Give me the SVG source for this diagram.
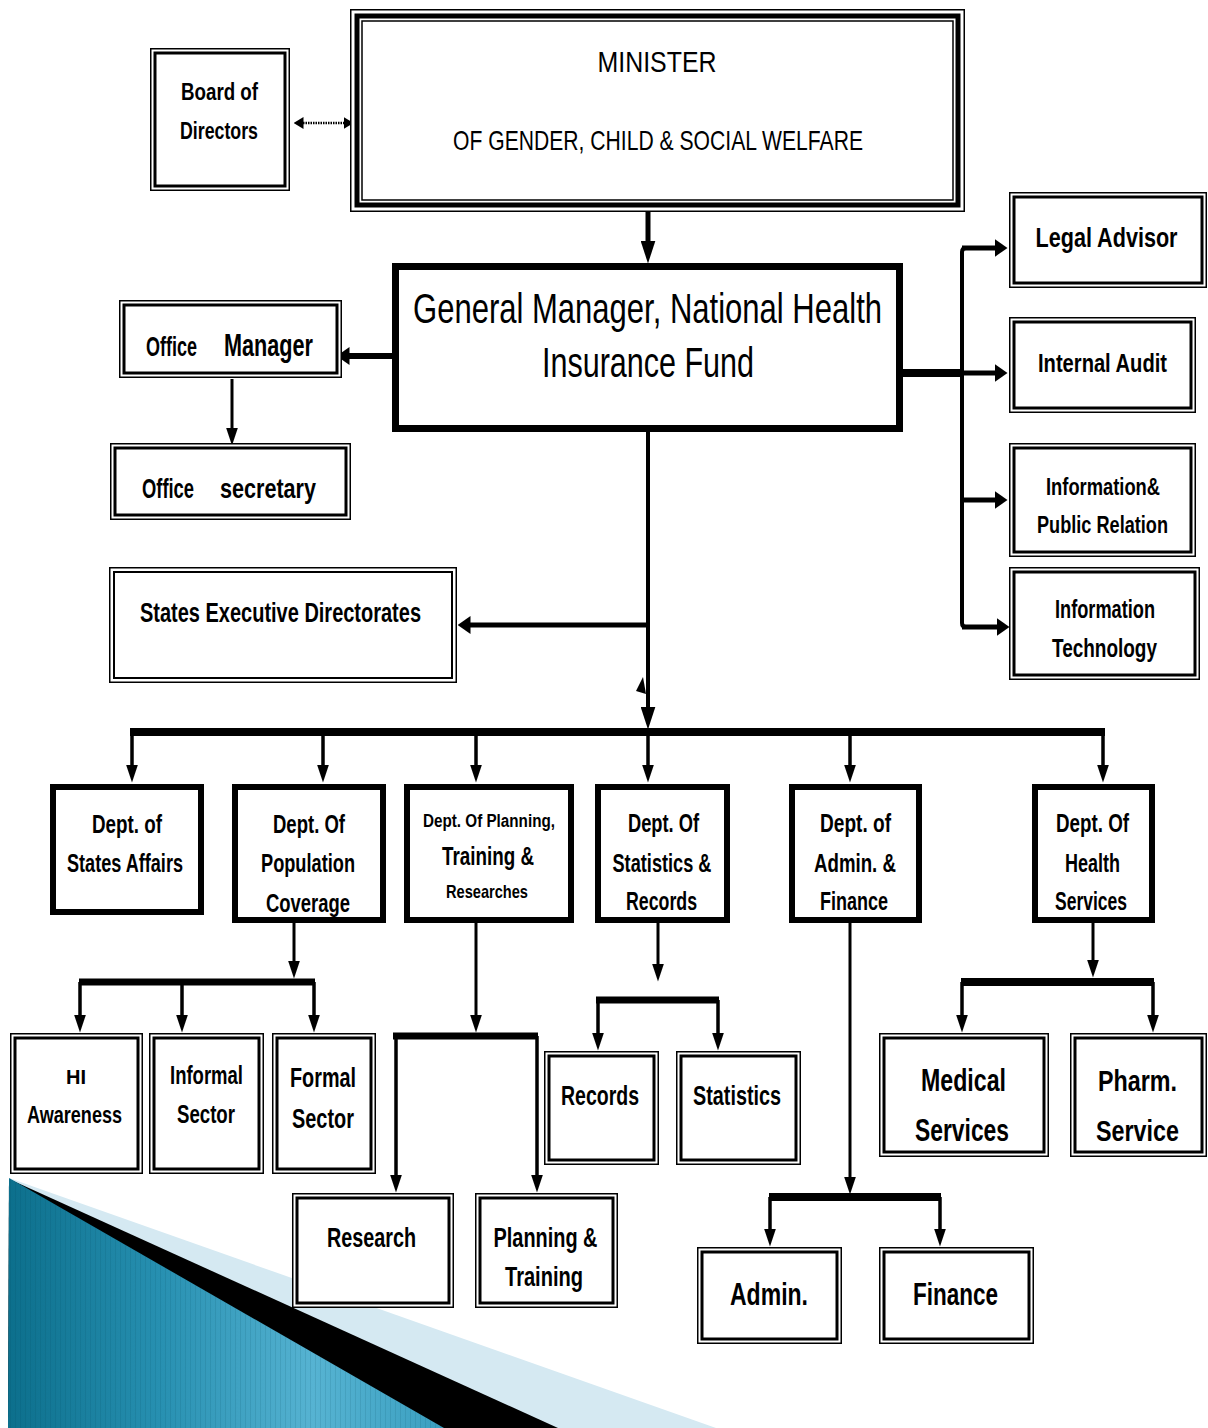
<svg xmlns="http://www.w3.org/2000/svg" width="1208" height="1428" viewBox="0 0 1208 1428">
<style>
.b{font-family:"Liberation Sans Narrow","Liberation Sans",Arial,sans-serif;font-weight:bold;text-anchor:middle;fill:#000}
.l{font-family:"Liberation Sans Narrow","Liberation Sans",Arial,sans-serif;font-weight:normal;text-anchor:middle;fill:#000}
.o{fill:#fff;stroke:#000;stroke-width:1.5}
.i{fill:none;stroke:#000;stroke-width:3}
.k{fill:#fff;stroke:#000;stroke-width:6}
.c{fill:none;stroke:#000}
</style>
<defs>
<linearGradient id="blue" x1="0" y1="0" x2="1" y2="0">
<stop offset="0" stop-color="#0c6f8c"/>
<stop offset="0.35" stop-color="#2790b1"/>
<stop offset="0.7" stop-color="#56b3d2"/>
<stop offset="1" stop-color="#3a9fc0"/>
</linearGradient>
<pattern id="stripes" width="5" height="10" patternUnits="userSpaceOnUse">
<rect width="5" height="10" fill="none"/>
<line x1="0.5" y1="0" x2="0.5" y2="10" stroke="#003a4c" stroke-width="1" opacity="0.12"/>
</pattern>
<marker id="mL" viewBox="0 0 23 15" refX="0.5" refY="7.5" markerWidth="23" markerHeight="15" orient="auto" markerUnits="userSpaceOnUse"><path d="M0,0 L23,7.5 L0,15 z"/></marker>
<marker id="mM" viewBox="0 0 18 12" refX="0.5" refY="6" markerWidth="18" markerHeight="12" orient="auto" markerUnits="userSpaceOnUse"><path d="M0,0 L18,6 L0,12 z"/></marker>
<marker id="mR" viewBox="0 0 13 18" refX="0.5" refY="9" markerWidth="13" markerHeight="18" orient="auto" markerUnits="userSpaceOnUse"><path d="M0,0 L13,9 L0,18 z"/></marker>
<marker id="mD" viewBox="0 0 10 12" refX="0.5" refY="6" markerWidth="10" markerHeight="12" orient="auto-start-reverse" markerUnits="userSpaceOnUse"><path d="M0,0 L10,6 L0,12 z"/></marker>
</defs>
<rect width="1208" height="1428" fill="#fff"/>
<g id="corner">
<polygon points="9,1178 716,1428 8,1428" fill="#d5e9f2"/>
<polygon points="9,1179 558,1428 8,1428" fill="#000"/>
<polygon points="9,1178 444,1428 8,1428" fill="url(#blue)"/>
<polygon points="9,1178 444,1428 8,1428" fill="url(#stripes)"/>
</g>
<g id="connectors">
<path class="c" d="M648,212 V241" stroke-width="5" marker-end="url(#mL)"/>
<path class="c" d="M303,123 H344" stroke-width="2.5" stroke-dasharray="1.5 1" marker-start="url(#mD)" marker-end="url(#mD)"/>
<path class="c" d="M393,356 H349" stroke-width="6" marker-end="url(#mR)"/>
<path class="c" d="M232,379 V428" stroke-width="3" marker-end="url(#mM)"/>
<path class="c" d="M903,373 H962" stroke-width="8"/>
<path class="c" d="M975,248 H966 Q962,248 962,252 V623 Q962,627 966,627 H975" stroke-width="4"/>
<path class="c" d="M962,248 H995" stroke-width="5" marker-end="url(#mR)"/>
<path class="c" d="M962,373 H995" stroke-width="5" marker-end="url(#mR)"/>
<path class="c" d="M962,500 H995" stroke-width="5" marker-end="url(#mR)"/>
<path class="c" d="M962,627 H997" stroke-width="5" marker-end="url(#mR)"/>
<path class="c" d="M648,432 V707" stroke-width="4" marker-end="url(#mL)"/>
<path class="c" d="M648,625 H470" stroke-width="5" marker-end="url(#mR)"/>
<polygon points="643,677 636,691 646,694" fill="#000"/>
<path class="c" d="M130,732 H1105" stroke-width="8"/>
<path class="c" d="M132,732 V765" stroke-width="3.5" marker-end="url(#mM)"/>
<path class="c" d="M323,732 V765" stroke-width="3.5" marker-end="url(#mM)"/>
<path class="c" d="M476,732 V765" stroke-width="3.5" marker-end="url(#mM)"/>
<path class="c" d="M648,732 V765" stroke-width="3.5" marker-end="url(#mM)"/>
<path class="c" d="M850,732 V765" stroke-width="3.5" marker-end="url(#mM)"/>
<path class="c" d="M1103,732 V765" stroke-width="3.5" marker-end="url(#mM)"/>
<path class="c" d="M294,923 V961" stroke-width="3" marker-end="url(#mM)"/>
<path class="c" d="M79,982 H315" stroke-width="7"/>
<path class="c" d="M80,982 V1015" stroke-width="3.5" marker-end="url(#mM)"/>
<path class="c" d="M182,982 V1015" stroke-width="3.5" marker-end="url(#mM)"/>
<path class="c" d="M314,982 V1015" stroke-width="3.5" marker-end="url(#mM)"/>
<path class="c" d="M476,923 V1015" stroke-width="3" marker-end="url(#mM)"/>
<path class="c" d="M393,1036 H538" stroke-width="7"/>
<path class="c" d="M396,1036 V1175" stroke-width="3.5" marker-end="url(#mM)"/>
<path class="c" d="M537,1036 V1175" stroke-width="3.5" marker-end="url(#mM)"/>
<path class="c" d="M658,923 V964" stroke-width="3" marker-end="url(#mM)"/>
<path class="c" d="M596,1000 H719" stroke-width="7"/>
<path class="c" d="M598,1000 V1033" stroke-width="3.5" marker-end="url(#mM)"/>
<path class="c" d="M718,1000 V1033" stroke-width="3.5" marker-end="url(#mM)"/>
<path class="c" d="M850,923 V1177" stroke-width="3" marker-end="url(#mM)"/>
<path class="c" d="M769,1197 H941" stroke-width="8"/>
<path class="c" d="M770,1197 V1229" stroke-width="3.5" marker-end="url(#mM)"/>
<path class="c" d="M940,1197 V1229" stroke-width="3.5" marker-end="url(#mM)"/>
<path class="c" d="M1093,923 V960" stroke-width="3" marker-end="url(#mM)"/>
<path class="c" d="M961,982 H1154" stroke-width="8"/>
<path class="c" d="M962,982 V1015" stroke-width="3.5" marker-end="url(#mM)"/>
<path class="c" d="M1153,982 V1015" stroke-width="3.5" marker-end="url(#mM)"/>
</g>
<g id="minister">
<rect class="o" x="350.75" y="9.75" width="613.5" height="201.5"/>
<rect fill="none" stroke="#000" stroke-width="5" x="357" y="16" width="601" height="189"/>
<rect fill="none" stroke="#000" stroke-width="1.5" x="362" y="21" width="591" height="179"/>
<text class="l" x="657" y="72" font-size="30" textLength="119" lengthAdjust="spacingAndGlyphs">MINISTER</text>
<text class="l" x="658" y="150" font-size="28" textLength="410" lengthAdjust="spacingAndGlyphs">OF GENDER, CHILD &amp; SOCIAL WELFARE</text>
</g>
<g id="board">
<rect class="o" x="150.75" y="48.75" width="138.5" height="141.5"/>
<rect class="i" x="155" y="53" width="130" height="133"/>
<text class="b" x="219.5" y="100" font-size="23" textLength="77" lengthAdjust="spacingAndGlyphs">Board of</text>
<text class="b" x="219" y="139" font-size="23" textLength="78" lengthAdjust="spacingAndGlyphs">Directors</text>
</g>
<g id="gm">
<rect fill="#fff" stroke="#000" stroke-width="7" x="395.5" y="266.5" width="504" height="162"/>
<text class="l" x="647.5" y="323" font-size="43" textLength="469" lengthAdjust="spacingAndGlyphs">General Manager, National Health</text>
<text class="l" x="648" y="377" font-size="43" textLength="212" lengthAdjust="spacingAndGlyphs">Insurance Fund</text>
</g>
<g id="office-manager">
<rect class="o" x="119.75" y="300.75" width="221.5" height="76.5"/>
<rect class="i" x="124" y="305" width="213" height="68"/>
<text class="b" x="171.5" y="356" font-size="27" textLength="51" lengthAdjust="spacingAndGlyphs">Office</text>
<text class="b" x="268.5" y="356" font-size="31" textLength="89" lengthAdjust="spacingAndGlyphs">Manager</text>
</g>
<g id="office-secretary">
<rect class="o" x="110.75" y="443.75" width="239.5" height="75.5"/>
<rect class="i" x="115" y="448" width="231" height="67"/>
<text class="b" x="168" y="498" font-size="27" textLength="52" lengthAdjust="spacingAndGlyphs">Office</text>
<text class="b" x="268" y="498" font-size="28" textLength="96" lengthAdjust="spacingAndGlyphs">secretary</text>
</g>
<g id="legal-advisor">
<rect class="o" x="1009.75" y="192.75" width="196.5" height="94.5"/>
<rect class="i" x="1014" y="197" width="188" height="86"/>
<text class="b" transform="translate(1106.5,247) scale(0.8,1)" x="0" y="0" font-size="27">Legal Advisor</text>
</g>
<g id="internal-audit">
<rect class="o" x="1009.75" y="317.75" width="185.5" height="94.5"/>
<rect class="i" x="1014" y="322" width="177" height="86"/>
<text class="b" x="1102.5" y="372" font-size="25" textLength="129" lengthAdjust="spacingAndGlyphs">Internal Audit</text>
</g>
<g id="info-pr">
<rect class="o" x="1009.75" y="443.75" width="185.5" height="112.5"/>
<rect class="i" x="1014" y="448" width="177" height="104"/>
<text class="b" x="1103" y="495" font-size="24" textLength="114" lengthAdjust="spacingAndGlyphs">Information&amp;</text>
<text class="b" x="1102.5" y="533" font-size="23" textLength="131" lengthAdjust="spacingAndGlyphs">Public Relation</text>
</g>
<g id="info-tech">
<rect class="o" x="1009.75" y="567.75" width="189.5" height="111.5"/>
<rect class="i" x="1014" y="572" width="181" height="103"/>
<text class="b" x="1105" y="618" font-size="25" textLength="100" lengthAdjust="spacingAndGlyphs">Information</text>
<text class="b" x="1104.5" y="657" font-size="25" textLength="105" lengthAdjust="spacingAndGlyphs">Technology</text>
</g>
<g id="states-exec">
<rect class="o" x="109.75" y="567.75" width="346.5" height="114.5"/>
<rect fill="none" stroke="#000" stroke-width="2" x="114" y="572" width="338" height="106"/>
<text class="b" x="280.5" y="622" font-size="27" textLength="281" lengthAdjust="spacingAndGlyphs">States Executive Directorates</text>
</g>
<g id="dept-states-affairs">
<rect class="k" x="53" y="787" width="148" height="125"/>
<text class="b" x="127" y="833" font-size="25" textLength="70" lengthAdjust="spacingAndGlyphs">Dept. of</text>
<text class="b" x="125" y="872" font-size="25" textLength="116" lengthAdjust="spacingAndGlyphs">States Affairs</text>
</g>
<g id="dept-population">
<rect class="k" x="235" y="787" width="148" height="133"/>
<text class="b" x="309" y="833" font-size="25" textLength="72" lengthAdjust="spacingAndGlyphs">Dept. Of</text>
<text class="b" x="308" y="872" font-size="25" textLength="94" lengthAdjust="spacingAndGlyphs">Population</text>
<text class="b" x="308" y="912" font-size="25" textLength="84" lengthAdjust="spacingAndGlyphs">Coverage</text>
</g>
<g id="dept-planning">
<rect class="k" x="407" y="787" width="164" height="133"/>
<text class="b" x="489" y="827" font-size="18" textLength="132" lengthAdjust="spacingAndGlyphs">Dept. Of Planning,</text>
<text class="b" x="488" y="865" font-size="25" textLength="92" lengthAdjust="spacingAndGlyphs">Training &amp;</text>
<text class="b" x="487" y="898" font-size="19" textLength="82" lengthAdjust="spacingAndGlyphs">Researches</text>
</g>
<g id="dept-statistics">
<rect class="k" x="598" y="787" width="129" height="133"/>
<text class="b" x="663.5" y="832" font-size="25" textLength="71" lengthAdjust="spacingAndGlyphs">Dept. Of</text>
<text class="b" x="662" y="872" font-size="25" textLength="99" lengthAdjust="spacingAndGlyphs">Statistics &amp;</text>
<text class="b" x="661.5" y="910" font-size="25" textLength="71" lengthAdjust="spacingAndGlyphs">Records</text>
</g>
<g id="dept-admin">
<rect class="k" x="792" y="787" width="127" height="133"/>
<text class="b" x="855.5" y="832" font-size="25" textLength="71" lengthAdjust="spacingAndGlyphs">Dept. of</text>
<text class="b" x="855" y="872" font-size="25" textLength="82" lengthAdjust="spacingAndGlyphs">Admin. &amp;</text>
<text class="b" x="854" y="910" font-size="25" textLength="68" lengthAdjust="spacingAndGlyphs">Finance</text>
</g>
<g id="dept-health">
<rect class="k" x="1035" y="787" width="117" height="133"/>
<text class="b" x="1092.5" y="832" font-size="25" textLength="73" lengthAdjust="spacingAndGlyphs">Dept. Of</text>
<text class="b" x="1092.5" y="872" font-size="25" textLength="55" lengthAdjust="spacingAndGlyphs">Health</text>
<text class="b" x="1091" y="910" font-size="25" textLength="72" lengthAdjust="spacingAndGlyphs">Services</text>
</g>
<g id="hi-awareness">
<rect class="o" x="10.75" y="1033.75" width="131.5" height="139.5"/>
<rect class="i" x="15" y="1038" width="123" height="131"/>
<text class="b" x="76" y="1084" font-size="21" textLength="20" lengthAdjust="spacingAndGlyphs">HI</text>
<text class="b" x="74.5" y="1123" font-size="24" textLength="95" lengthAdjust="spacingAndGlyphs">Awareness</text>
</g>
<g id="informal-sector">
<rect class="o" x="149.75" y="1033.75" width="113.5" height="139.5"/>
<rect class="i" x="154" y="1038" width="105" height="131"/>
<text class="b" x="206.5" y="1084" font-size="26" textLength="73" lengthAdjust="spacingAndGlyphs">Informal</text>
<text class="b" x="206" y="1123" font-size="26" textLength="58" lengthAdjust="spacingAndGlyphs">Sector</text>
</g>
<g id="formal-sector">
<rect class="o" x="272.75" y="1033.75" width="102.5" height="139.5"/>
<rect class="i" x="277" y="1038" width="94" height="131"/>
<text class="b" x="323" y="1087" font-size="28" textLength="66" lengthAdjust="spacingAndGlyphs">Formal</text>
<text class="b" x="323" y="1128" font-size="28" textLength="62" lengthAdjust="spacingAndGlyphs">Sector</text>
</g>
<g id="research">
<rect class="o" x="292.75" y="1193.75" width="160.5" height="113.5"/>
<rect class="i" x="297" y="1198" width="152" height="105"/>
<text class="b" x="371.5" y="1247" font-size="28" textLength="89" lengthAdjust="spacingAndGlyphs">Research</text>
</g>
<g id="planning-training">
<rect class="o" x="475.75" y="1193.75" width="141.5" height="113.5"/>
<rect class="i" x="480" y="1198" width="133" height="105"/>
<text class="b" x="545.5" y="1247" font-size="27" textLength="104" lengthAdjust="spacingAndGlyphs">Planning &amp;</text>
<text class="b" x="544" y="1286" font-size="27" textLength="78" lengthAdjust="spacingAndGlyphs">Training</text>
</g>
<g id="records">
<rect class="o" x="544.75" y="1051.75" width="113.5" height="112.5"/>
<rect class="i" x="549" y="1056" width="105" height="104"/>
<text class="b" x="600" y="1105" font-size="27" textLength="78" lengthAdjust="spacingAndGlyphs">Records</text>
</g>
<g id="statistics">
<rect class="o" x="676.75" y="1051.75" width="123.5" height="112.5"/>
<rect class="i" x="681" y="1056" width="115" height="104"/>
<text class="b" x="737" y="1105" font-size="27" textLength="88" lengthAdjust="spacingAndGlyphs">Statistics</text>
</g>
<g id="medical-services">
<rect class="o" x="879.75" y="1033.75" width="168.5" height="122.5"/>
<rect class="i" x="884" y="1038" width="160" height="114"/>
<text class="b" x="963.5" y="1091" font-size="31" textLength="85" lengthAdjust="spacingAndGlyphs">Medical</text>
<text class="b" x="962" y="1141" font-size="31" textLength="94" lengthAdjust="spacingAndGlyphs">Services</text>
</g>
<g id="pharm-service">
<rect class="o" x="1070.75" y="1033.75" width="135.5" height="122.5"/>
<rect class="i" x="1075" y="1038" width="127" height="114"/>
<text class="b" x="1137.5" y="1091" font-size="30" textLength="79" lengthAdjust="spacingAndGlyphs">Pharm.</text>
<text class="b" x="1137.5" y="1141" font-size="30" textLength="83" lengthAdjust="spacingAndGlyphs">Service</text>
</g>
<g id="admin">
<rect class="o" x="697.75" y="1247.75" width="143.5" height="95.5"/>
<rect class="i" x="702" y="1252" width="135" height="87"/>
<text class="b" x="769" y="1305" font-size="31" textLength="78" lengthAdjust="spacingAndGlyphs">Admin.</text>
</g>
<g id="finance">
<rect class="o" x="879.75" y="1247.75" width="153.5" height="95.5"/>
<rect class="i" x="884" y="1252" width="145" height="87"/>
<text class="b" x="955.5" y="1305" font-size="31" textLength="85" lengthAdjust="spacingAndGlyphs">Finance</text>
</g>
</svg>
